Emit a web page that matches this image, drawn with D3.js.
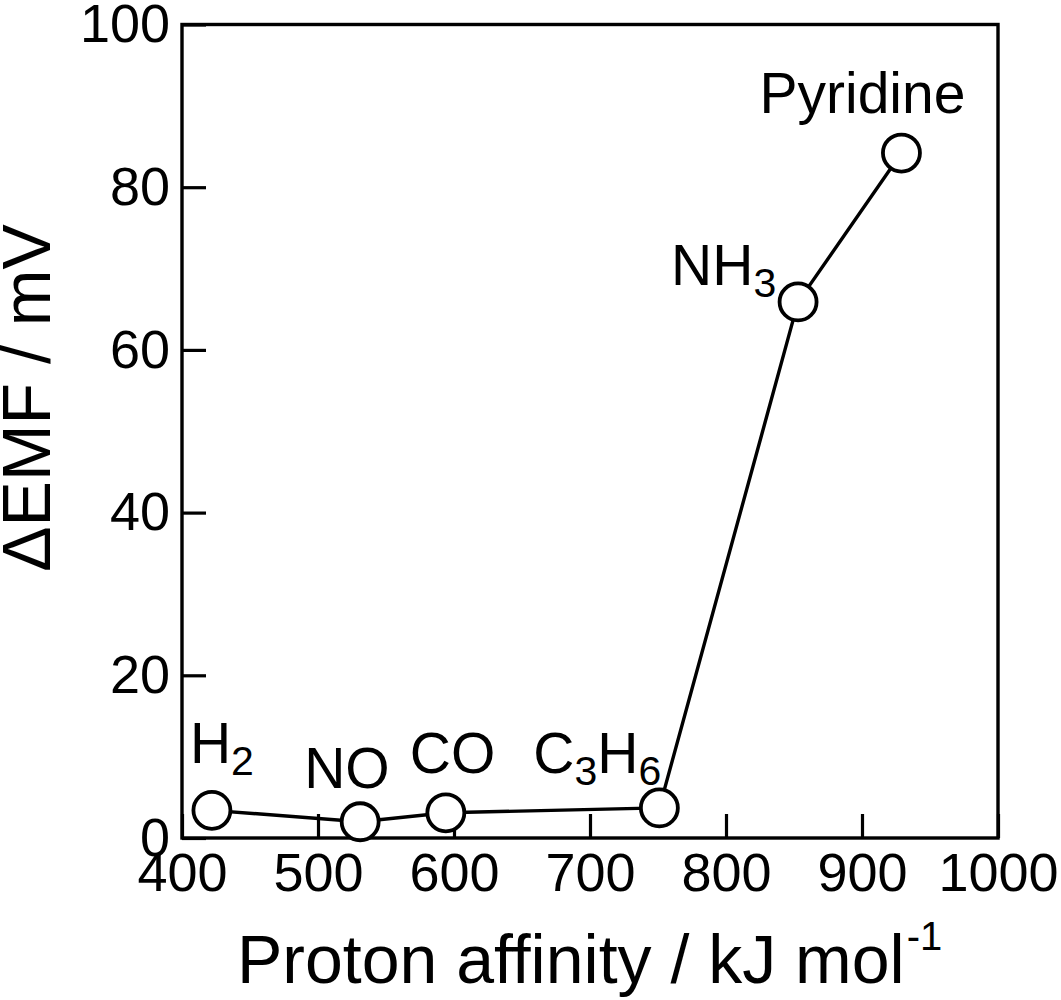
<!DOCTYPE html>
<html>
<head>
<meta charset="utf-8">
<script src="https://cdn.jsdelivr.net/npm/d3@7"></script>
<style>
  body { margin: 0; background: #fff; }
  svg { display: block; font-family: "Liberation Sans", Arial, sans-serif; }
</style>
</head>
<body>
<svg id="chart" width="1061" height="1000"></svg>
<script>
// gases, proton affinity (kJ/mol) and ΔEMF (mV)
const gases = ["H_2", "NO", "CO", "C_3H_6", "NH_3", "Pyridine"];
const protonAffinity = [422, 531, 594, 751, 853, 929];
const deltaEMF = [3.4, 2.0, 3.1, 3.7, 65.9, 84.2];

const xTicks = [400, 500, 600, 700, 800, 900, 1000];
const yTicks = [0, 20, 40, 60, 80, 100];

const svg = d3.select("#chart");
const plotL = 182, plotR = 998, plotT = 24.5, plotB = 838;

const x = d3.scaleLinear().domain([400, 1000]).range([plotL, plotR]);
const y = d3.scaleLinear().domain([0, 100]).range([plotB, plotT]);

// axes with inward ticks
const xAxis = svg.append("g")
  .attr("transform", `translate(0,${plotB})`)
  .call(d3.axisBottom(x).tickValues(xTicks).tickFormat(d3.format("d"))
    .tickSizeInner(-24).tickSizeOuter(0).tickPadding(15));
const yAxis = svg.append("g")
  .attr("transform", `translate(${plotL},0)`)
  .call(d3.axisLeft(y).tickValues(yTicks).tickFormat(d3.format("d"))
    .tickSizeInner(-24).tickSizeOuter(0).tickPadding(12));

[xAxis, yAxis].forEach(g => {
  g.select(".domain").remove();
  g.selectAll(".tick line").attr("stroke", "#000").attr("stroke-width", 3.2);
  g.selectAll(".tick text")
    .attr("fill", "#000")
    .style("font-size", "54px")
    .style("font-family", "'Liberation Sans', Arial, sans-serif");
});

// frame
svg.append("rect")
  .attr("x", plotL).attr("y", plotT)
  .attr("width", plotR - plotL).attr("height", plotB - plotT)
  .attr("fill", "none").attr("stroke", "#000").attr("stroke-width", 3.4);

// connecting line
const pts = protonAffinity.map((p, i) => [x(p), y(deltaEMF[i])]);
svg.append("path")
  .attr("d", d3.line()(pts))
  .attr("fill", "none").attr("stroke", "#000").attr("stroke-width", 3.4);

svg.append("g").selectAll("circle")
  .data(pts)
  .join("circle")
  .attr("cx", d => d[0]).attr("cy", d => d[1])
  .attr("r", 18.5)
  .attr("fill", "#fff").attr("stroke", "#000").attr("stroke-width", 3.8);

// gas labels, offset from their point
const labelShift = [[-22, -47], [-56, -34], [-36, -40], [-126, -35], [-127, -17], [-142, -40]];

gases.forEach((name, i) => {
  const t = svg.append("text")
    .attr("x", pts[i][0] + labelShift[i][0])
    .attr("y", pts[i][1] + labelShift[i][1])
    .attr("fill", "#000")
    .style("font-size", "57px");
  // "_" marks the next character as subscript
  const parts = name.match(/_.|[^_]/g);
  let sub = false;
  parts.forEach(p => {
    if (p[0] === "_") {
      t.append("tspan").text(p[1]).style("font-size", "41px").attr("dy", 12);
      sub = true;
    } else {
      t.append("tspan").text(p).attr("dy", sub ? -12 : null);
      sub = false;
    }
  });
});

// axis titles
const xt = svg.append("text")
  .attr("x", 237).attr("y", 983)
  .attr("fill", "#000")
  .style("font-size", "68px");
xt.append("tspan").text("Proton affinity / kJ mol");
xt.append("tspan").text("-1").attr("dx", 2).attr("dy", -33).style("font-size", "40px");

svg.append("text")
  .attr("transform", "translate(50,398) rotate(-90)")
  .attr("text-anchor", "middle")
  .attr("fill", "#000")
  .style("font-size", "68px")
  .text("ΔEMF / mV");
</script>
</body>
</html>
